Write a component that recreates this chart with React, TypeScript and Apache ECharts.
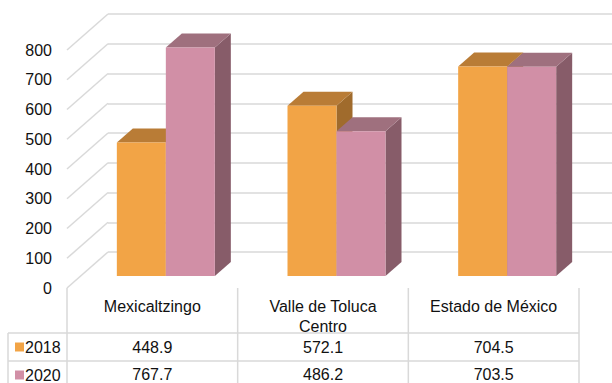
import React, { useEffect, useRef } from "react";
import * as echarts from "echarts";

// Data
const categories = ["Mexicaltzingo", "Valle de Toluca\nCentro", "Estado de México"];
const years = ["2018", "2020"];
const values2018 = [448.9, 572.1, 704.5];
const values2020 = [767.7, 486.2, 703.5];
const yTicks = [0, 100, 200, 300, 400, 500, 600, 700, 800];

// Styling
const FONT = "'Liberation Sans', Arial, sans-serif";
const TEXT = "#111111";
const GRID_LINE = "#D9D9D9";
const WALL_DX = 41; // depth of the side wall / back wall offset
const WALL_DY = 36;
const BAR_DX = 13.5; // offset of the bar row from the front plane
const BAR_DY = 12;
const BAR_W = 49;
const BAR_DEPTH_X = 16;
const BAR_DEPTH_Y = 14;

const palettes = [
  { front: "#F2A446", top: "#B97C36", side: "#A06B2C", key: "#F2A446" },
  { front: "#D18FA6", top: "#9F707E", side: "#875C69", key: "#D18FA6" },
];

const makeBarRender = (k: number) => (params: any, api: any) => {
  const pal = palettes[k];
  const idx = api.value(0);
  const v = api.value(1);
  const top = api.coord([idx, v]);
  const base = api.coord([idx, 0]);
  const cx = top[0] + BAR_DX;
  const x0 = k === 0 ? cx - BAR_W : cx;
  const x1 = x0 + BAR_W;
  const yT = top[1] - BAR_DY;
  const yB = base[1] - BAR_DY;
  const dx = BAR_DEPTH_X;
  const dy = BAR_DEPTH_Y;
  return {
    type: "group",
    children: [
      {
        type: "polygon",
        shape: { points: [[x1, yT], [x1 + dx, yT - dy], [x1 + dx, yB - dy], [x1, yB]] },
        style: { fill: pal.side },
      },
      {
        type: "polygon",
        shape: { points: [[x0, yT], [x0 + dx, yT - dy], [x1 + dx, yT - dy], [x1, yT]] },
        style: { fill: pal.top },
      },
      {
        type: "rect",
        shape: { x: x0, y: yT, width: BAR_W, height: yB - yT },
        style: { fill: pal.front },
      },
    ],
  };
};

// Diagonal gridlines on the left side wall, one per tick value
const renderSideWall = (params: any, api: any) => {
  const y = api.coord([0, api.value(1)])[1];
  const x = params.coordSys.x;
  return {
    type: "line",
    shape: { x1: x, y1: y, x2: x + WALL_DX, y2: y - WALL_DY },
    style: { stroke: GRID_LINE, lineWidth: 1.5 },
  };
};

// Data table under the category labels
const ROW1_Y = 59;
const ROW2_Y = 86;
const TABLE_H = 101;
const renderTable = (params: any, api: any) => {
  const i = api.value(0);
  const c = api.coord([i, 0]);
  const band = api.size([1, 0])[0];
  const y0 = c[1];
  const left = c[0] - band / 2;
  const children: any[] = [
    {
      type: "line",
      shape: { x1: left, y1: y0, x2: left, y2: y0 + TABLE_H },
      style: { stroke: GRID_LINE, lineWidth: 1.5 },
    },
    {
      type: "text",
      x: c[0],
      y: y0 + ROW1_Y,
      style: {
        text: values2018[i].toFixed(1),
        fill: TEXT,
        fontSize: 16,
        fontFamily: FONT,
        align: "center",
        verticalAlign: "middle",
      },
    },
    {
      type: "text",
      x: c[0],
      y: y0 + ROW2_Y,
      style: {
        text: values2020[i].toFixed(1),
        fill: TEXT,
        fontSize: 16,
        fontFamily: FONT,
        align: "center",
        verticalAlign: "middle",
      },
    },
  ];
  if (i === categories.length - 1) {
    children.push({
      type: "line",
      shape: { x1: left + band, y1: y0, x2: left + band, y2: y0 + TABLE_H },
      style: { stroke: GRID_LINE, lineWidth: 1.5 },
    });
  }
  return { type: "group", children };
};

export default function App() {
  const ref = useRef<HTMLDivElement>(null);

  useEffect(() => {
    if (!ref.current) return;
    const chart = echarts.init(ref.current, undefined, { renderer: "svg" });

    const tableLeft = 8;
    const tableRight = 579;
    const row1Top = 333;
    const row2Top = 361;
    const tableBottom = 389;

    chart.setOption({
      animation: false,
      backgroundColor: "#ffffff",
      textStyle: { fontFamily: FONT },
      grid: [
        { left: 67, top: 50, width: 512, height: 238 },
        { left: 67 + WALL_DX, top: 50 - WALL_DY, width: 512, height: 238 },
      ],
      xAxis: [
        {
          type: "category",
          gridIndex: 0,
          data: categories,
          axisLine: { show: false },
          axisTick: { show: false },
          axisLabel: {
            interval: 0,
            margin: 8,
            fontSize: 16,
            lineHeight: 20,
            color: TEXT,
            fontFamily: FONT,
          },
        },
        { type: "category", gridIndex: 1, data: categories, show: false },
      ],
      yAxis: [
        {
          type: "value",
          gridIndex: 0,
          min: 0,
          max: 800,
          interval: 100,
          axisLine: { show: false },
          axisTick: { show: false },
          splitLine: { show: false },
          axisLabel: { margin: 15, fontSize: 16, color: TEXT, fontFamily: FONT },
        },
        {
          type: "value",
          gridIndex: 1,
          min: 0,
          max: 800,
          interval: 100,
          axisLine: { show: false },
          axisTick: { show: false },
          axisLabel: { show: false },
          splitLine: { lineStyle: { color: GRID_LINE, width: 1.5 } },
        },
      ],
      series: [
        {
          type: "custom",
          xAxisIndex: 0,
          yAxisIndex: 0,
          renderItem: renderSideWall,
          data: yTicks.map((v) => [0, v]),
          encode: { x: 0, y: 1 },
          silent: true,
        },
        {
          name: years[0],
          type: "custom",
          xAxisIndex: 0,
          yAxisIndex: 0,
          renderItem: makeBarRender(0),
          data: values2018.map((v, i) => [i, v]),
          encode: { x: 0, y: 1 },
        },
        {
          name: years[1],
          type: "custom",
          xAxisIndex: 0,
          yAxisIndex: 0,
          renderItem: makeBarRender(1),
          data: values2020.map((v, i) => [i, v]),
          encode: { x: 0, y: 1 },
        },
        {
          type: "custom",
          xAxisIndex: 0,
          yAxisIndex: 0,
          renderItem: renderTable,
          data: categories.map((_, i) => [i, 0]),
          encode: { x: 0, y: 1 },
          silent: true,
        },
      ],
      graphic: [
        {
          type: "line",
          shape: { x1: tableLeft, y1: row1Top, x2: tableRight, y2: row1Top },
          style: { stroke: GRID_LINE, lineWidth: 1.5 },
        },
        {
          type: "line",
          shape: { x1: tableLeft, y1: row2Top, x2: tableRight, y2: row2Top },
          style: { stroke: GRID_LINE, lineWidth: 1.5 },
        },
        {
          type: "line",
          shape: { x1: tableLeft, y1: tableBottom, x2: tableRight, y2: tableBottom },
          style: { stroke: GRID_LINE, lineWidth: 1.5 },
        },
        {
          type: "line",
          shape: { x1: tableLeft, y1: row1Top, x2: tableLeft, y2: tableBottom },
          style: { stroke: GRID_LINE, lineWidth: 1.5 },
        },
        ...years.flatMap((yr, k) => {
          const cy = (k === 0 ? row1Top : row2Top) + 14;
          return [
            {
              type: "rect",
              shape: { x: 15, y: cy - 4.5, width: 9, height: 9 },
              style: { fill: palettes[k].key },
            },
            {
              type: "text",
              x: 25,
              y: cy,
              style: {
                text: yr,
                fill: TEXT,
                fontSize: 16,
                fontFamily: FONT,
                align: "left",
                verticalAlign: "middle",
              },
            },
          ];
        }),
      ],
    });

    return () => chart.dispose();
  }, []);

  return (
    <div
      ref={ref}
      style={{ position: "fixed", left: 0, top: 0, width: 612, height: 383 }}
    />
  );
}
